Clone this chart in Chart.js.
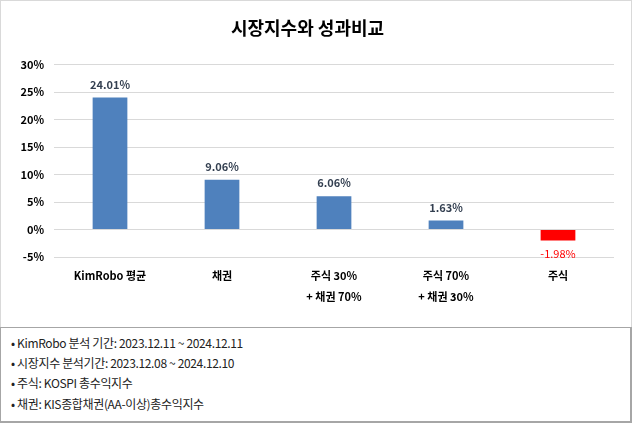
<!DOCTYPE html>
<html><head><meta charset="utf-8">
<script src="https://cdn.jsdelivr.net/npm/chart.js@4.4.0/dist/chart.umd.min.js"></script>
<style>
html,body{margin:0;padding:0;background:#fff;}
#wrap{position:absolute;left:0;top:0;width:630px;height:326px;border:1px solid #d9d9d9;}
#notes{position:absolute;left:0;top:327px;width:629px;height:93px;border:1px solid #a6a6a6;border-width:1px 2px 2px 1px;font-family:"Noto Sans CJK KR","Noto Sans",sans-serif;font-size:12px;letter-spacing:-0.35px;color:#222;}
#notes div{position:absolute;left:10px;white-space:nowrap;}
canvas{display:block;}
</style></head><body>
<div id="wrap"><canvas id="c" width="630" height="326"></canvas></div>
<div id="notes">
<div style="top:6px">• KimRobo 분석 기간: 2023.12.11 ~ 2024.12.11</div>
<div style="top:26px">• 시장지수 분석기간: 2023.12.08 ~ 2024.12.10</div>
<div style="top:46px">• 주식: KOSPI 총수익지수</div>
<div style="top:67px">• 채권: KIS종합채권(AA-이상)총수익지수</div>
</div>
<script>
const categories = [["KimRobo 평균"], ["채권"], ["주식 30%", "+ 채권 70%"], ["주식 70%", "+ 채권 30%"], ["주식"]];
const values = [24.01, 9.06, 6.06, 1.63, -1.98];
const yTicks = [-5, 0, 5, 10, 15, 20, 25, 30];
const FONT = '"Noto Sans CJK KR","Noto Sans",sans-serif';

const labelPlugin = {
  id: 'valLabels',
  afterDatasetsDraw(chart) {
    const ctx = chart.ctx;
    const meta = chart.getDatasetMeta(0);
    ctx.save();
    ctx.textAlign = 'center';
    ctx.textBaseline = 'middle';
    meta.data.forEach((bar, i) => {
      const v = values[i];
      const txt = v.toFixed(2) + '%';
      if (v >= 0) {
        ctx.fillStyle = '#333f50';
        ctx.font = 'bold 11px ' + FONT;
        ctx.fillText(txt, bar.x, bar.y - 13);
      } else {
        ctx.fillStyle = '#ff0000';
        ctx.font = '11px ' + FONT;
        ctx.fillText(txt, bar.x, bar.y + 13);
      }
    });
    ctx.restore();
  }
};

new Chart(document.getElementById('c'), {
  type: 'bar',
  data: {
    labels: categories,
    datasets: [{
      data: values,
      backgroundColor: values.map(v => v < 0 ? '#ff0000' : '#4f81bd'),
      barPercentage: 0.62,
      categoryPercentage: 0.5
    }]
  },
  options: {
    responsive: false,
    animation: false,
    layout: { padding: { left: 0, right: 17, top: 0, bottom: 0 } },
    plugins: {
      legend: { display: false },
      tooltip: { enabled: false },
      title: {
        display: true,
        text: '시장지수와 성과비교',
        color: '#000',
        font: { family: FONT, size: 18, weight: 'bold' },
        padding: { top: 16, bottom: 26 }
      }
    },
    scales: {
      y: {
        min: -5, max: 30,
        afterBuildTicks(scale) { scale.ticks = yTicks.map(v => ({ value: v })); },
        afterFit(scale) { scale.width = 53; },
        grid: { color: '#d9d9d9', drawTicks: false },
        border: { display: false },
        ticks: {
          padding: 10,
          color: '#000',
          font: { family: FONT, size: 11, weight: 'bold' },
          callback: v => v + '%'
        }
      },
      x: {
        afterFit(scale) { scale.height = 70; },
        grid: { display: false },
        border: { display: false },
        ticks: {
          padding: 0,
          color: '#000',
          maxRotation: 0,
          autoSkip: false,
          font: { family: FONT, size: 11, weight: 'bold', lineHeight: 1.9 }
        }
      }
    }
  },
  plugins: [labelPlugin]
});
</script>
</body></html>
